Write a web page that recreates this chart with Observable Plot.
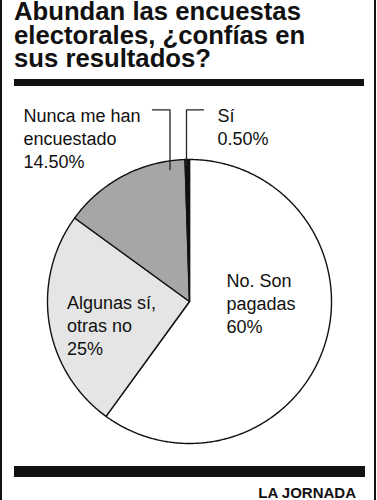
<!DOCTYPE html>
<html>
<head>
<meta charset="utf-8">
<script src="https://cdn.jsdelivr.net/npm/d3@7"></script>
<script src="https://cdn.jsdelivr.net/npm/@observablehq/plot@0.6"></script>
<style>
  html, body { margin: 0; padding: 0; background: #fff; }
  #page { position: relative; width: 377px; height: 500px; background: #fff; overflow: hidden;
          font-family: "Liberation Sans", Arial, Helvetica, sans-serif; color: #111; }
  .abs { position: absolute; }
  #title { left: 14px; top: 0px; font-weight: bold; font-size: 25.7px; line-height: 23.5px; white-space: nowrap; }
  #chart { left: 0; top: 90px; }
  #footer { left: 0; width: 356px; top: 484.6px; text-align: right; font-weight: bold; font-size: 15px; line-height: 15px; }
</style>
</head>
<body>
<div id="page">
  <div class="abs" style="left:0;top:0;width:2px;height:500px;background:#111"></div>
  <div class="abs" style="left:374px;top:0;width:2px;height:500px;background:#111"></div>
  <div id="title" class="abs">Abundan las encuestas<br>electorales, ¿confías en<br>sus resultados?</div>
  <div class="abs" style="left:14px;top:79px;width:350px;height:7px;background:#111"></div>
  <div id="chart" class="abs"></div>
  <div class="abs" style="left:14px;top:466px;width:351px;height:11px;background:#111"></div>
  <div id="footer" class="abs">LA JORNADA</div>
</div>
<script>
// ---- Data ----
const categories = ["No. Son pagadas", "Algunas sí, otras no", "Nunca me han encuestado", "Sí"];
const values = [60, 25, 14.5, 0.5];
const valueLabels = ["60%", "25%", "14.50%", "0.50%"];
const labelLines = ["No. Son\npagadas", "Algunas sí,\notras no", "Nunca me han\nencuestado", "Sí"];
const fills = ["#ffffff", "#e5e5e5", "#a6a6a6", "#111111"];

// ---- Layout (pixels) ----
const W = 377, H = 370, cx = 189, cy = 211, R = 142, svgTop = 90;
const toX = px => (px - cx) / R;
const toY = py => (cy - (py - svgTop)) / R;
// label anchors (page px: left x, cap-top y)
const labelAnchor = {
  "No. Son pagadas": [226, 269.9],
  "Algunas sí, otras no": [66.5, 292],
  "Nunca me han encuestado": [23, 104.9],
  "Sí": [217, 104.9]
};
const leaders = {
  "Nunca me han encuestado": [[152, 109.3], [169.5, 109.3], [169.5, 169]],
  "Sí": [[203, 109.3], [186, 109.3], [186, 165]]
};

// ---- Pie geometry from values ----
const arcs = d3.pie().sort(null).value(d => d.value).startAngle(0).endAngle(2 * Math.PI)(
  categories.map((c, i) => ({key: c, value: values[i]}))
);
const slicePts = [];
for (const a of arcs) {
  const key = a.data.key;
  slicePts.push({key, x: 0, y: 0});
  const n = Math.max(2, Math.ceil((a.endAngle - a.startAngle) / (Math.PI / 360)));
  for (let k = 0; k <= n; k++) {
    const t = a.startAngle + (a.endAngle - a.startAngle) * k / n;
    slicePts.push({key, x: Math.sin(t), y: Math.cos(t)});
  }
  slicePts.push({key, x: 0, y: 0});
}

const labels = categories.map((c, i) => ({
  key: c,
  text: labelLines[i] + "\n" + valueLabels[i],
  x: toX(labelAnchor[c][0]),
  y: toY(labelAnchor[c][1])
}));

const leaderPts = [];
for (const [k, pts] of Object.entries(leaders)) {
  for (const [px, py] of pts) leaderPts.push({key: k, x: toX(px), y: toY(py)});
}

const chart = Plot.plot({
  width: W,
  height: H,
  margin: 0,
  x: {domain: [-cx / R, (W - cx) / R], axis: null},
  y: {domain: [-(H - cy) / R, cy / R], axis: null},
  color: {type: "ordinal", domain: categories, range: fills},
  style: {fontFamily: "'Liberation Sans', Arial, Helvetica, sans-serif", background: "transparent", overflow: "visible"},
  marks: [
    Plot.line(slicePts, {x: "x", y: "y", z: "key", fill: "key", stroke: "#111", strokeWidth: 1.4, strokeLinejoin: "round"}),
    Plot.line(leaderPts, {x: "x", y: "y", z: "key", stroke: "#222", strokeWidth: 1.3}),
    Plot.text(labels, {x: "x", y: "y", text: "text", textAnchor: "start", lineAnchor: "top", lineHeight: 1.28, fontSize: 18, fill: "#111"})
  ]
});
document.getElementById("chart").appendChild(chart);
</script>
</body>
</html>
